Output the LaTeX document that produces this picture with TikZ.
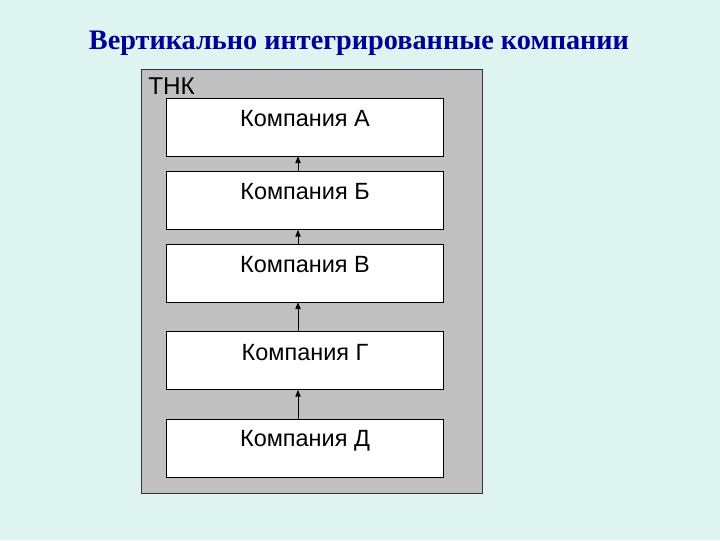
\documentclass[tikz,border=0pt]{standalone}
\usepackage{fontspec}
\setmainfont{Liberation Serif}
\setsansfont{Liberation Sans}
\usetikzlibrary{arrows.meta}
\definecolor{bgc}{RGB}{221,244,240}
\definecolor{titleblue}{RGB}{0,0,150}
\definecolor{outergray}{RGB}{192,192,192}
\begin{document}
\begin{tikzpicture}[x=0.75pt,y=-0.75pt,
  company/.style={draw=black, line width=0.6pt, fill=white, minimum width=277*0.75pt, minimum height=58*0.75pt, inner sep=0pt},
  label/.style={font=\sffamily\fontsize{17.6}{20}\selectfont},
  link/.style={-{Triangle[length=5pt,width=4pt]}, line width=0.6pt}]
\fill[bgc] (0,0) rectangle (720,540);
\useasboundingbox (0,0) rectangle (720,540);
\node[font=\bfseries\fontsize{21.2}{25}\selectfont, text=titleblue] (title) at (359,43) {Вертикально интегрированные компании};
\node[draw=black!80, line width=0.6pt, fill=outergray, minimum width=341*0.75pt, minimum height=424*0.75pt, inner sep=0pt] (tnk) at (311.5,281) {};
\node[font=\sffamily\fontsize{18.2}{20}\selectfont, anchor=north west, inner sep=0pt] (tnkl) at (148,78) {ТНК};
\node[company] (a) at (304.5,127) {};
\node[company] (b) at (304.5,200.5) {};
\node[company] (c) at (304.5,273) {};
\node[company] (d) at (304.5,360.5) {};
\node[company] (e) at (304.5,448.5) {};
\node[label] (ta) at (305,119) {Компания А};
\node[label] (tb) at (305,192) {Компания Б};
\node[label] (tc) at (305,265) {Компания В};
\node[label] (td) at (305,353) {Компания Г};
\node[label] (te) at (305,441) {Компания Д};
\draw[link] (b.north -| 298,0) -- (a.south -| 298,0);
\draw[link] (c.north -| 298,0) -- (b.south -| 298,0);
\draw[link] (d.north -| 298,0) -- (c.south -| 298,0);
\draw[link] (e.north -| 298,0) -- (d.south -| 298,0);
\end{tikzpicture}
\end{document}
